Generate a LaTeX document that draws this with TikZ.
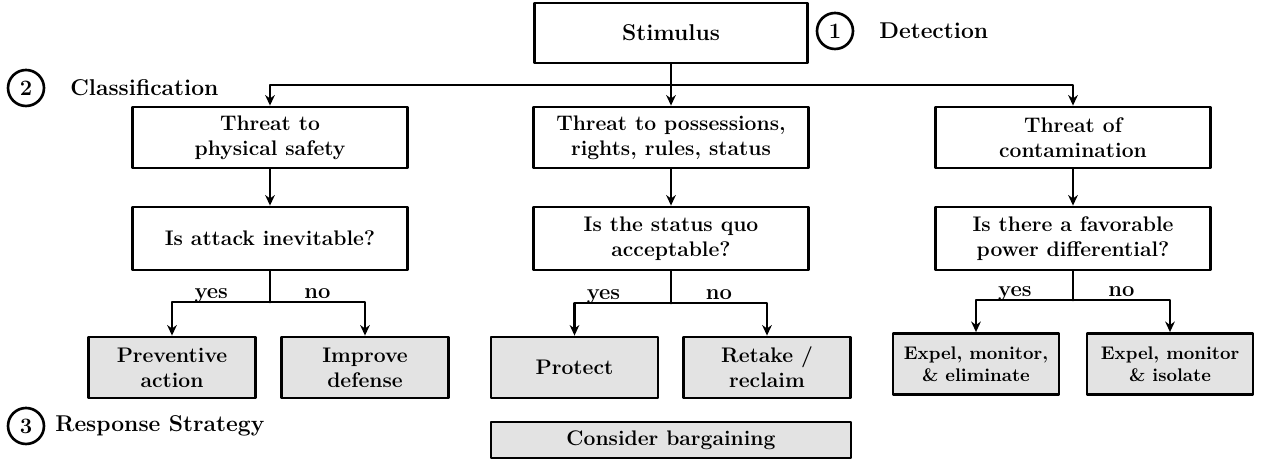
\documentclass[tikz,border=0pt]{standalone}
\usepackage{tikz}
\usetikzlibrary{arrows.meta,positioning}
\definecolor{leafgray}{RGB}{227,227,227}

\begin{document}
\begin{tikzpicture}[>={Stealth[length=6pt,width=5.5pt]},line cap=round,line join=round,
 box/.style={draw,line width=1.6pt,align=center,inner sep=2pt,
  font=\fontsize{12}{14.2}\selectfont\bfseries,minimum height=1.22cm},
 leaf/.style={box,fill=leafgray,minimum width=3.34cm},
 smallleaf/.style={leaf,font=\fontsize{10.4}{12.5}\selectfont\bfseries,minimum width=3.32cm},
 link/.style={->,line width=1.6pt},
 answer/.style={anchor=base,yshift=2pt,inner sep=0pt,font=\fontsize{12.5}{14}\selectfont\bfseries},
 stagenum/.style={circle,draw,line width=1.5pt,minimum size=.72cm,inner sep=0pt,
  font=\fontsize{12.5}{14}\selectfont\bfseries},
 stagename/.style={anchor=west,inner sep=0pt,font=\fontsize{13}{15}\selectfont\bfseries}]
\useasboundingbox (0,0) rectangle (25.22,9.18);
% Wykrycie bodźca
\node[box,minimum width=5.46cm,minimum height=1.2cm,font=\fontsize{13}{15}\selectfont\bfseries]
 (stim) at (13.42,8.52) {Stimulus};
\node[stagenum] (numA) at (16.70,8.56) {1};
\node[stagename] (detect) at (17.58,8.56) {Detection};
\coordinate (bus) at (13.42,7.48);
% Klasyfikacja zagrożenia
\node[stagenum] (numB) at (0.52,7.42) {2};
\node[stagename] (classif) at (1.40,7.42) {Classification};
\node[box,minimum width=5.5cm] (thrA) at (5.40,6.43) {Threat to\\physical safety};
\node[box,minimum width=5.5cm] (thrB) at (13.42,6.43) {Threat to possessions,\\rights, rules, status};
\node[box,minimum width=5.5cm] (thrC) at (21.46,6.43) {Threat of\\contamination};
\draw[link] (stim.south) -- (bus) -| (thrA.north);
\draw[link] (bus) -| (thrC.north);
\draw[link] (bus) -- (thrB.north);
% Pytania rozstrzygające
\node[box,minimum width=5.5cm,minimum height=1.26cm] (askA) at (5.40,4.41) {Is attack inevitable?};
\node[box,minimum width=5.5cm,minimum height=1.26cm] (askB) at (13.42,4.41) {Is the status quo\\acceptable?};
\node[box,minimum width=5.5cm,minimum height=1.26cm] (askC) at (21.46,4.41) {Is there a favorable\\power differential?};
\draw[link] (thrA) -- (askA);
\draw[link] (thrB) -- (askB);
\draw[link] (thrC) -- (askC);
% Strategie odpowiedzi
\node[stagenum] (numC) at (0.52,0.66) {3};
\node[stagename] (respond) at (1.10,0.66) {Response Strategy};
\node[leaf] (prevent) at (3.44,1.83) {Preventive\\action};
\node[leaf] (improve) at (7.30,1.83) {Improve\\defense};
\node[leaf] (protect) at (11.49,1.83) {Protect};
\node[leaf] (retake) at (15.34,1.83) {Retake /\\reclaim};
\node[smallleaf] (expelE) at (19.52,1.90) {Expel, monitor,\\\& eliminate};
\node[smallleaf] (expelI) at (23.40,1.90) {Expel, monitor\\\& isolate};
\node[leaf,minimum width=7.2cm,minimum height=.72cm] (bargain) at (13.42,0.38) {Consider bargaining};
\coordinate (splitA) at (5.40,3.14);
\coordinate (splitB) at (13.42,3.12);
\coordinate (splitC) at (21.46,3.18);
\draw[line width=1.6pt] (askA.south) -- (splitA);
\draw[line width=1.6pt] (askB.south) -- (splitB);
\draw[line width=1.6pt] (askC.south) -- (splitC);
\draw[link] (splitA) -| node[answer,pos=.3] (yesA) {yes} (prevent.north);
\draw[link] (splitA) -| node[answer,pos=.25] (noA) {no} (improve.north);
\draw[link] (splitB) -| node[answer,pos=.35] (yesB) {yes} (protect.north);
\draw[link] (splitB) -| node[answer,pos=.25] (noB) {no} (retake.north);
\draw[link] (splitC) -| node[answer,pos=.3] (yesC) {yes} (expelE.north);
\draw[link] (splitC) -| node[answer,pos=.25] (noC) {no} (expelI.north);
\end{tikzpicture}
\end{document}
